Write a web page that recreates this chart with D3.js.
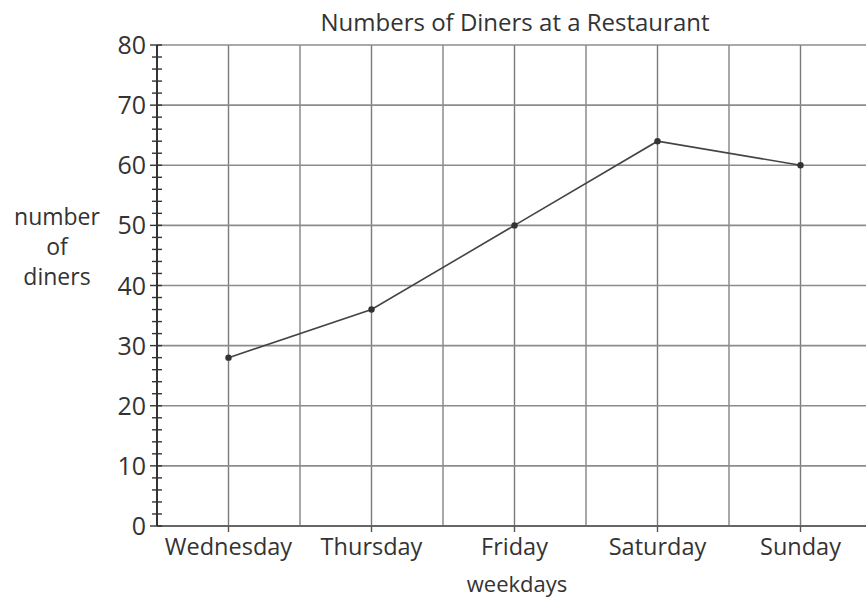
<!DOCTYPE html>
<html>
<head>
<meta charset="utf-8">
<script src="https://cdn.jsdelivr.net/npm/d3@7"></script>
<style>
  body { margin: 0; background: #fff; }
  svg text { font-family: "Open Sans", "DejaVu Sans", sans-serif; fill: #333; }
</style>
</head>
<body>
<div id="chart"></div>
<script>
var days = ["Wednesday", "Thursday", "Friday", "Saturday", "Sunday"];
var diners = [28, 36, 50, 64, 60];
var yTicks = [0, 10, 20, 30, 40, 50, 60, 70, 80];
var yLabelLines = ["number", "of", "diners"];

var width = 866, height = 600;
var margin = { top: 45, right: 0, bottom: 74, left: 157 };
var plotH = height - margin.top - margin.bottom;

var svg = d3.select("#chart").append("svg")
    .attr("width", width)
    .attr("height", height);

// x goes by day index, half steps between days get gridlines too
var x = d3.scaleLinear().domain([-0.5, 4.5]).range([margin.left, margin.left + 715]);
var y = d3.scaleLinear().domain([0, 80]).range([margin.top + plotH, margin.top]);

var grid = svg.append("g");

// vertical gridlines
grid.selectAll(".vgrid")
    .data(d3.range(0, 5, 0.5))
    .enter().append("line")
    .attr("class", "vgrid")
    .attr("x1", d => x(d)).attr("x2", d => x(d))
    .attr("y1", y(80)).attr("y2", y(0))
    .attr("stroke", d => d % 1 === 0 ? "#7a7a7a" : "#a8a8a8")
    .attr("stroke-width", d => d % 1 === 0 ? 1.4 : 2);

// horizontal gridlines
grid.selectAll(".hgrid")
    .data(yTicks.slice(1))
    .enter().append("line")
    .attr("class", "hgrid")
    .attr("x1", x(-0.5)).attr("x2", width)
    .attr("y1", d => y(d)).attr("y2", d => y(d))
    .attr("stroke", "#8c8c8c")
    .attr("stroke-width", 1.6);

// x axis line + ticks under each day
var xAxis = svg.append("g");
xAxis.append("line")
    .attr("x1", x(-0.5)).attr("x2", width)
    .attr("y1", y(0)).attr("y2", y(0))
    .attr("stroke", "#666").attr("stroke-width", 2);
xAxis.selectAll(".xtick")
    .data(days)
    .enter().append("line")
    .attr("x1", (d, i) => x(i)).attr("x2", (d, i) => x(i))
    .attr("y1", y(0)).attr("y2", y(0) + 6)
    .attr("stroke", "#555").attr("stroke-width", 1.4);
xAxis.selectAll(".xlabel")
    .data(days)
    .enter().append("text")
    .attr("x", (d, i) => x(i))
    .attr("y", y(0) + 29)
    .attr("text-anchor", "middle")
    .style("font-size", "23.5px")
    .text(d => d);

// y axis: line, minor ticks every 2, labels every 10
var yAxis = svg.append("g");
yAxis.append("line")
    .attr("x1", x(-0.5)).attr("x2", x(-0.5))
    .attr("y1", y(80)).attr("y2", y(0))
    .attr("stroke", "#333").attr("stroke-width", 2);
yAxis.selectAll(".ytick")
    .data(d3.range(0, 81, 2))
    .enter().append("line")
    .attr("x1", d => x(-0.5) - (d % 10 === 0 ? 7 : 5))
    .attr("x2", d => x(-0.5) + 5)
    .attr("y1", d => y(d)).attr("y2", d => y(d))
    .attr("stroke", "#333").attr("stroke-width", 1.4);
yAxis.selectAll(".ylabel")
    .data(yTicks)
    .enter().append("text")
    .attr("x", x(-0.5) - 11)
    .attr("y", d => y(d))
    .attr("dy", "0.36em")
    .attr("text-anchor", "end")
    .style("font-size", "25px")
    .text(d => d);

// the line
var line = d3.line()
    .x((d, i) => x(i))
    .y(d => y(d));

svg.append("path")
    .datum(diners)
    .attr("d", line)
    .attr("fill", "none")
    .attr("stroke", "#444")
    .attr("stroke-width", 1.6);

svg.selectAll(".dot")
    .data(diners)
    .enter().append("circle")
    .attr("cx", (d, i) => x(i))
    .attr("cy", d => y(d))
    .attr("r", 3.2)
    .attr("fill", "#333");

// titles
svg.append("text")
    .attr("x", 515).attr("y", 31)
    .attr("text-anchor", "middle")
    .style("font-size", "24px")
    .text("Numbers of Diners at a Restaurant");

svg.append("text")
    .attr("x", 517).attr("y", 592)
    .attr("text-anchor", "middle")
    .style("font-size", "22px")
    .text("weekdays");

svg.selectAll(".ytitle")
    .data(yLabelLines)
    .enter().append("text")
    .attr("x", 57)
    .attr("y", (d, i) => 225 + i * 30)
    .attr("text-anchor", "middle")
    .style("font-size", "23px")
    .text(d => d);
</script>
</body>
</html>
